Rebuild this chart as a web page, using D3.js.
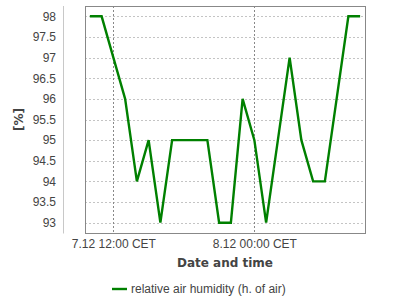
<!DOCTYPE html>
<html>
<head>
<meta charset="utf-8">
<script src="https://cdn.jsdelivr.net/npm/d3@7"></script>
<style>
  body { margin: 0; background: #fff; }
  svg { display: block; font-family: "Liberation Sans", Arial, sans-serif; }
</style>
</head>
<body>
<div id="chart"></div>
<script>
// hourly readings, 7.12 10:00 -> 8.12 09:00 (CET)
const startHour = Date.UTC(2020, 11, 7, 10);
const humidity = [98, 98, 97, 96, 94, 95, 93, 95, 95, 95, 95, 93,
                  93, 96, 95, 93, 95, 97, 95, 94, 94, 96, 98, 98];
const yTicks = [93, 93.5, 94, 94.5, 95, 95.5, 96, 96.5, 97, 97.5, 98];
const xTicks = [Date.UTC(2020, 11, 7, 12), Date.UTC(2020, 11, 8, 0)];
const seriesName = 'relative air humidity (h. of air)';

const W = 400, H = 300;
const m = { top: 6, right: 35, bottom: 67, left: 85 };
const iw = W - m.left - m.right, ih = H - m.top - m.bottom;

const data = humidity.map((v, i) => ({ t: startHour + i * 3600e3, v }));

const svg = d3.select('#chart').append('svg').attr('width', W).attr('height', H);
const g = svg.append('g').attr('transform', `translate(${m.left},${m.top})`);

const pad = 0.415 * 3600e3;
const x = d3.scaleLinear()
  .domain([data[0].t - pad, data[data.length - 1].t + pad])
  .range([0, iw]);
const y = d3.scaleLinear().domain([92.75, 98.25]).range([ih, 0]);

const fmt = t => {
  const d = new Date(t);
  return `${d.getUTCDate()}.${d.getUTCMonth() + 1} ${d3.format('02')(d.getUTCHours())}:00 CET`;
};

// horizontal grid
g.append('g').selectAll('line').data(yTicks).join('line')
  .attr('x1', 0).attr('x2', iw)
  .attr('y1', d => Math.round(y(d)) + 0.5).attr('y2', d => Math.round(y(d)) + 0.5)
  .attr('stroke', '#c4c4c4').attr('stroke-dasharray', '2,2');

// vertical grid at date ticks
g.append('g').selectAll('line').data(xTicks).join('line')
  .attr('x1', d => Math.round(x(d)) + 0.5).attr('x2', d => Math.round(x(d)) + 0.5)
  .attr('y1', 0).attr('y2', ih)
  .attr('stroke', '#888').attr('stroke-dasharray', '2,2');

// plot border
g.append('rect').attr('x', 0.5).attr('y', 0.5).attr('width', iw).attr('height', ih)
  .attr('fill', 'none').attr('stroke', '#888');

// y axis (detached, left of plot)
const yAxis = g.append('g').attr('transform', 'translate(-22,0)')
  .call(d3.axisLeft(y).tickValues(yTicks).tickSize(0).tickPadding(7).tickFormat(d3.format('')));
yAxis.select('.domain').attr('stroke', '#c8c8c8').attr('d', `M0.5,0V${ih + 0.5}`);
yAxis.selectAll('text').attr('font-size', 12).attr('fill', '#444').attr('font-family', null);

// x axis labels
const xAxis = g.append('g').attr('transform', `translate(0,${ih})`)
  .call(d3.axisBottom(x).tickValues(xTicks).tickSize(0).tickPadding(6).tickFormat(fmt));
xAxis.select('.domain').remove();
xAxis.selectAll('text').attr('font-size', 12).attr('fill', '#444').attr('font-family', null);

// series line
g.append('path').datum(data)
  .attr('fill', 'none').attr('stroke', '#008000').attr('stroke-width', 2.4)
  .attr('stroke-linejoin', 'miter')
  .attr('d', d3.line().x(d => x(d.t)).y(d => y(d.v)));

// axis titles
svg.append('text').attr('x', m.left + iw / 2).attr('y', 267)
  .attr('text-anchor', 'middle').attr('font-size', 12).attr('font-weight', 'bold')
  .attr('font-family', '"DejaVu Sans", sans-serif')
  .attr('fill', '#444').text('Date and time');
svg.append('text').attr('transform', `translate(23,${m.top + ih / 2}) rotate(-90)`)
  .attr('text-anchor', 'middle').attr('font-size', 12).attr('font-weight', 'bold')
  .attr('font-family', '"DejaVu Sans", sans-serif')
  .attr('fill', '#444').text('[%]');

// legend
const lg = svg.append('g').attr('transform', 'translate(112,289)');
lg.append('line').attr('x1', 0).attr('x2', 15).attr('stroke', '#008000').attr('stroke-width', 2.4);
lg.append('text').attr('x', 19).attr('dy', '0.35em').attr('font-size', 12)
  .attr('fill', '#444').text(seriesName);
</script>
</body>
</html>
